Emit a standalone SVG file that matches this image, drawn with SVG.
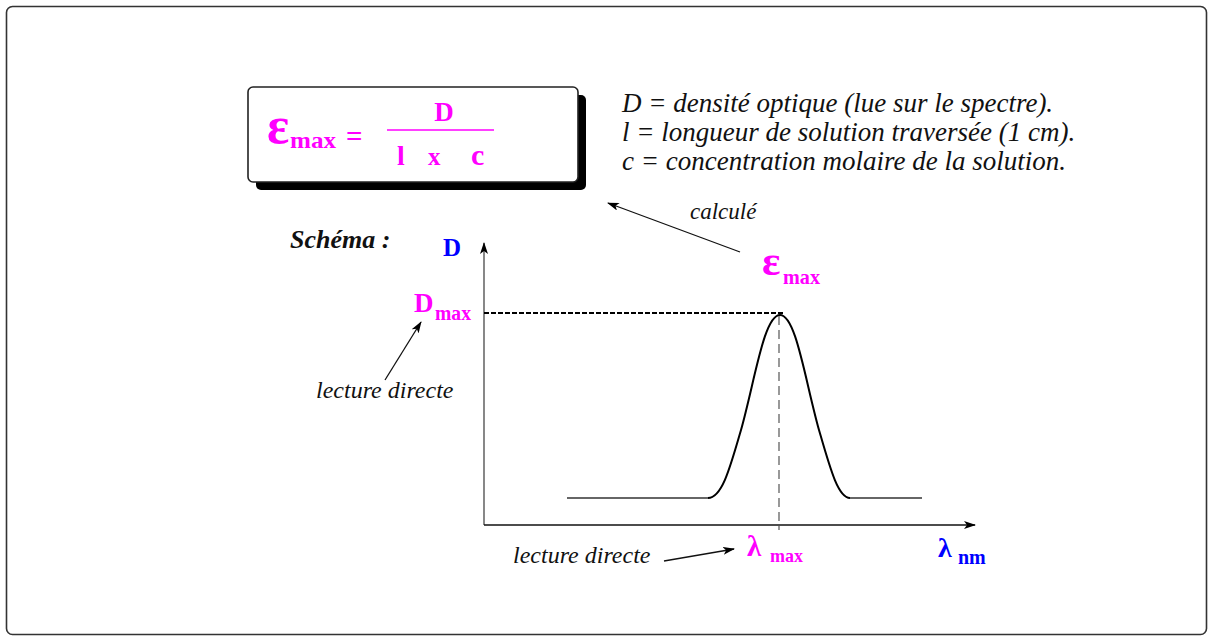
<svg xmlns="http://www.w3.org/2000/svg" width="1210" height="637" viewBox="0 0 1210 637">
<defs>
<style>
.it{font-family:"Liberation Serif","Times New Roman",serif;font-style:italic;fill:#111}
.bd{font-family:"Liberation Serif","Times New Roman",serif;font-weight:bold}
.mg{fill:#ff00ff}
.bl{fill:#0000ff}
.ln{stroke:#111;stroke-width:1.3;fill:none}
.ax{stroke:#555;stroke-width:1.4;fill:none}
</style>
<marker id="ah" viewBox="0 0 12 8" refX="11" refY="4" markerWidth="12" markerHeight="8" markerUnits="userSpaceOnUse" orient="auto">
<path d="M0,0 L12,4 L0,8 L3,4 z" fill="#000"/>
</marker>
</defs>
<rect x="0" y="0" width="1210" height="637" fill="#fff"/>
<rect id="frame" x="6.5" y="6.5" width="1200" height="628" rx="6" fill="none" stroke="#333" stroke-width="1.6"/>

<g id="formula">
<rect x="256" y="95" width="330" height="95" rx="5" fill="#000"/>
<rect x="248" y="87" width="330" height="95" rx="5" fill="#fff" stroke="#222" stroke-width="1.6"/>
<text x="267" y="143" class="bd mg" font-size="52">ε</text>
<text x="290" y="148" class="bd mg" font-size="24" textLength="46" lengthAdjust="spacingAndGlyphs">max</text>
<text x="346" y="146" class="bd mg" font-size="29">=</text>
<text x="444" y="121" class="bd mg" font-size="27" text-anchor="middle">D</text>
<line x1="387" y1="130" x2="494" y2="130" stroke="#ff00ff" stroke-width="1.4"/>
<text x="397" y="165" class="bd mg" font-size="28">l</text>
<text x="428" y="165" class="bd mg" font-size="25">x</text>
<text x="471" y="165" class="bd mg" font-size="30">c</text>
</g>

<g id="legend">
<text x="622" y="112" class="it" font-size="27">D = densité optique (lue sur le spectre).</text>
<text x="622" y="141" class="it" font-size="27">l = longueur de solution traversée (1 cm).</text>
<text x="622" y="170" class="it" font-size="27">c = concentration molaire de la solution.</text>
</g>

<g id="schema-label">
<text x="290" y="248" class="it" font-weight="bold" font-size="26">Schéma :</text>
</g>

<g id="axes">
<line x1="484" y1="525" x2="484" y2="243" class="ax" marker-end="url(#ah)"/>
<line x1="484" y1="525" x2="975" y2="525" class="ln" marker-end="url(#ah)"/>
<text x="443" y="256" class="bd bl" font-size="25">D</text>
<text x="938" y="557" class="bd bl" font-size="28">λ</text>
<text x="958" y="564" class="bd bl" font-size="20">nm</text>
</g>

<g id="dmax">
<text x="414" y="312" class="bd mg" font-size="27">D</text>
<text x="435" y="320" class="bd mg" font-size="20" textLength="36" lengthAdjust="spacingAndGlyphs">max</text>
</g>

<g id="emax">
<text x="762" y="275" class="bd mg" font-size="43">ε</text>
<text x="783" y="284" class="bd mg" font-size="21" textLength="37" lengthAdjust="spacingAndGlyphs">max</text>
</g>

<g id="lmax">
<text x="747" y="556" class="bd mg" font-size="29">λ</text>
<text x="770" y="562" class="bd mg" font-size="19" textLength="33" lengthAdjust="spacingAndGlyphs">max</text>
</g>

<g id="curve">
<line x1="567" y1="498" x2="708" y2="498" stroke="#333" stroke-width="1.3"/>
<line x1="850" y1="498" x2="922" y2="498" stroke="#333" stroke-width="1.3"/>
<path d="M708,498 C722,498 730,468 741,430 C755,380 764,315 780,315 C796,315 805,380 819,430 C830,468 838,498 850,498" fill="none" stroke="#000" stroke-width="2"/>
</g>

<g id="connectors">
<line x1="484" y1="313" x2="783" y2="313" stroke="#000" stroke-width="1.8" stroke-dasharray="5,2"/>
<line x1="779" y1="316" x2="779" y2="530" stroke="#555" stroke-width="1.2" stroke-dasharray="9,5"/>
<line x1="740" y1="252" x2="608" y2="203" class="ln" marker-end="url(#ah)"/>
<line x1="385" y1="380" x2="421" y2="322" class="ln" marker-end="url(#ah)"/>
<line x1="664" y1="561" x2="734" y2="549" class="ln" marker-end="url(#ah)"/>
</g>

<g id="labels">
<text x="690" y="219" class="it" font-size="23">calculé</text>
<text x="316" y="398" class="it" font-size="24">lecture directe</text>
<text x="513" y="563" class="it" font-size="24">lecture directe</text>
</g>
</svg>
